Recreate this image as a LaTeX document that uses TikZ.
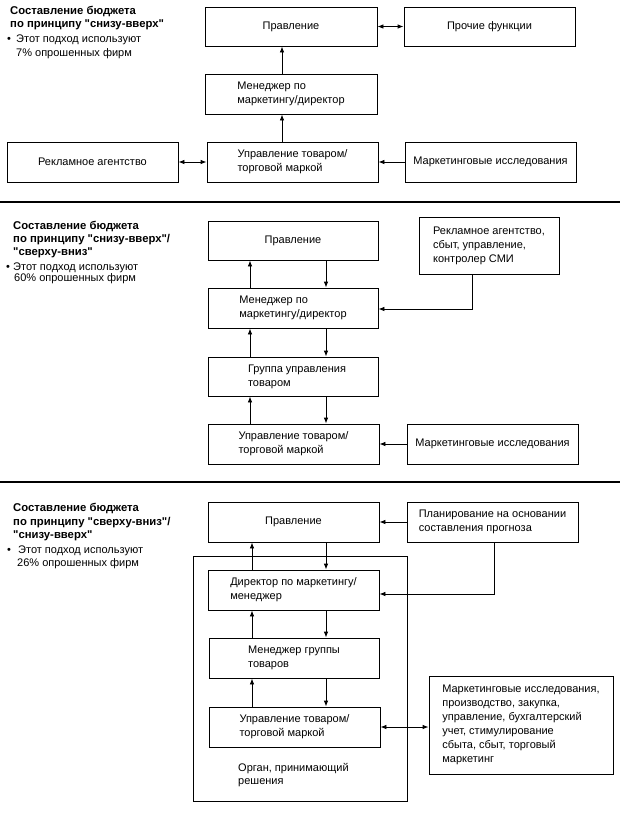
\documentclass[tikz,border=0pt]{standalone}
\usepackage{fontspec}
\setmainfont{Liberation Sans}[Ligatures=TeXOff]
\usetikzlibrary{arrows.meta}
\begin{document}
\begin{tikzpicture}[x=1pt,y=-1pt,
  box/.style={draw, line width=0.8pt, inner sep=0pt, align=left, font=\fontsize{11}{14}\selectfont},
  arr/.style={line width=0.8pt, -{Latex[length=6pt,width=4.5pt]}},
  darr/.style={line width=0.8pt, {Latex[length=6pt,width=4.5pt]}-{Latex[length=6pt,width=4.5pt]}},
  sep/.style={line width=1.8pt},
  ttl/.style={font=\bfseries\fontsize{11.3}{13}\selectfont, anchor=base west, inner sep=0pt},
  txt/.style={font=\fontsize{11}{13}\selectfont, anchor=base west, inner sep=0pt}]
\useasboundingbox (0,0) rectangle (627,839);

% ---------- Section 1 ----------
\node[ttl] (t1a) at (10,14) {Составление бюджета};
\node[ttl] (t1b) at (10,27) {по принципу "снизу-вверх"};
\node[txt] (t1c) at (7,42.5) {•};
\node[txt] (t1d) at (16,42.5) {Этот подход используют};
\node[txt] (t1e) at (16,56.5) {7\% опрошенных фирм};

\node[box, minimum width=172pt, minimum height=39pt] (p1) at (291,26.5) {Правление};
\node[box, minimum width=171pt, minimum height=39pt] (pf) at (489.5,26.5) {Прочие функции};
\node[box, minimum width=172pt, minimum height=40pt] (m1) at (291,94) {Менеджер по\\маркетингу/директор};
\node[box, minimum width=171pt, minimum height=40pt] (ra1) at (92.5,162) {Рекламное агентство};
\node[box, minimum width=171pt, minimum height=40pt] (u1) at (292.5,162) {Управление товаром/\\торговой маркой};
\node[box, minimum width=171pt, minimum height=40pt] (mi1) at (490.5,162) {Маркетинговые исследования};

\coordinate (c1) at (282,0);
\draw[arr] (u1.north -| c1) -- (m1.south -| c1);
\draw[arr] (m1.north -| c1) -- (p1.south -| c1);
\draw[darr] (ra1.east) -- (u1.west);
\draw[darr] (p1.east) -- (pf.west);
\draw[arr] (mi1.west) -- (u1.east);

\draw[sep] (0,202) -- (620,202);

% ---------- Section 2 ----------
\node[ttl] (t2a) at (13,229) {Составление бюджета};
\node[ttl] (t2b) at (13,242.5) {по принципу "снизу-вверх"/};
\node[ttl] (t2c) at (13,255.5) {"сверху-вниз"};
\node[txt] (t2d) at (6,270) {•};
\node[txt] (t2e) at (13,270) {Этот подход используют};
\node[txt] (t2f) at (14,281.5) {60\% опрошенных фирм};

\node[box, minimum width=170pt, minimum height=39pt] (p2) at (293,240.5) {Правление};
\node[box, minimum width=140pt, minimum height=57pt] (ra2) at (489,245.5) {Рекламное агентство,\\сбыт, управление,\\контролер СМИ};
\node[box, minimum width=170pt, minimum height=40pt] (m2) at (293,308) {Менеджер по\\маркетингу/директор};
\node[box, minimum width=170pt, minimum height=39pt] (g2) at (293,376.5) {\hspace*{8pt}Группа управления\\\hspace*{8pt}товаром};
\node[box, minimum width=171pt, minimum height=40pt] (u2) at (293.5,444) {Управление товаром/\\торговой маркой};
\node[box, minimum width=171pt, minimum height=40pt] (mi2) at (492.5,444) {Маркетинговые исследования};

\coordinate (l2) at (250,0);
\coordinate (r2) at (326,0);
\coordinate (k2) at (472,0);
\draw[arr] (m2.north -| l2) -- (p2.south -| l2);
\draw[arr] (g2.north -| l2) -- (m2.south -| l2);
\draw[arr] (u2.north -| l2) -- (g2.south -| l2);
\draw[arr] (p2.south -| r2) -- (m2.north -| r2);
\draw[arr] (m2.south -| r2) -- (g2.north -| r2);
\draw[arr] (g2.south -| r2) -- (u2.north -| r2);
\draw[arr] (ra2.south -| k2) |- ([yshift=-1pt]m2.east);
\draw[arr] (mi2.west) -- (u2.east);

\draw[sep] (0,482) -- (620,482);

% ---------- Section 3 ----------
\node[ttl] (t3a) at (13,511.5) {Составление бюджета};
\node[ttl] (t3b) at (13,525) {по принципу "сверху-вниз"/};
\node[ttl] (t3c) at (13,538) {"снизу-вверх"};
\node[txt] (t3d) at (7,553) {•};
\node[txt] (t3e) at (18,553) {Этот подход используют};
\node[txt] (t3f) at (17,566) {26\% опрошенных фирм};

\node[box, minimum width=214pt, minimum height=245pt] (org) at (300,678.5) {};
\node[txt] (o1) at (238,771) {Орган, принимающий};
\node[txt] (o2) at (238,784) {решения};

\node[box, minimum width=171pt, minimum height=40pt] (p3) at (293.5,522) {Правление};
\node[box, minimum width=171pt, minimum height=40pt] (pl3) at (492.5,522) {Планирование на основании\\составления прогноза};
\node[box, minimum width=171pt, minimum height=40pt, fill=white] (d3) at (293.5,590) {Директор по маркетингу/\\менеджер};
\node[box, minimum width=170pt, minimum height=40pt] (mg3) at (294,658) {Менеджер группы\\товаров};
\node[box, minimum width=171pt, minimum height=40pt] (u3) at (294.5,727) {Управление товаром/\\торговой маркой};
\node[box, minimum width=184pt, minimum height=98pt] (mr3) at (521,725) {Маркетинговые исследования,\\производство, закупка,\\управление, бухгалтерский\\учет, стимулирование\\сбыта, сбыт, торговый\\маркетинг};

\coordinate (l3) at (252,0);
\coordinate (r3) at (326,0);
\coordinate (k3) at (494,0);
\draw[arr] (d3.north -| l3) -- (p3.south -| l3);
\draw[arr] (mg3.north -| l3) -- (d3.south -| l3);
\draw[arr] (u3.north -| l3) -- (mg3.south -| l3);
\draw[arr] (p3.south -| r3) -- (d3.north -| r3);
\draw[arr] (d3.south -| r3) -- (mg3.north -| r3);
\draw[arr] (mg3.south -| r3) -- (u3.north -| r3);
\draw[arr] (pl3.west) -- (p3.east);
\draw[arr] (pl3.south -| k3) |- ([yshift=-4pt]d3.east);
\draw[darr] (u3.east) -- (u3.east -| mr3.west);
\end{tikzpicture}
\end{document}
